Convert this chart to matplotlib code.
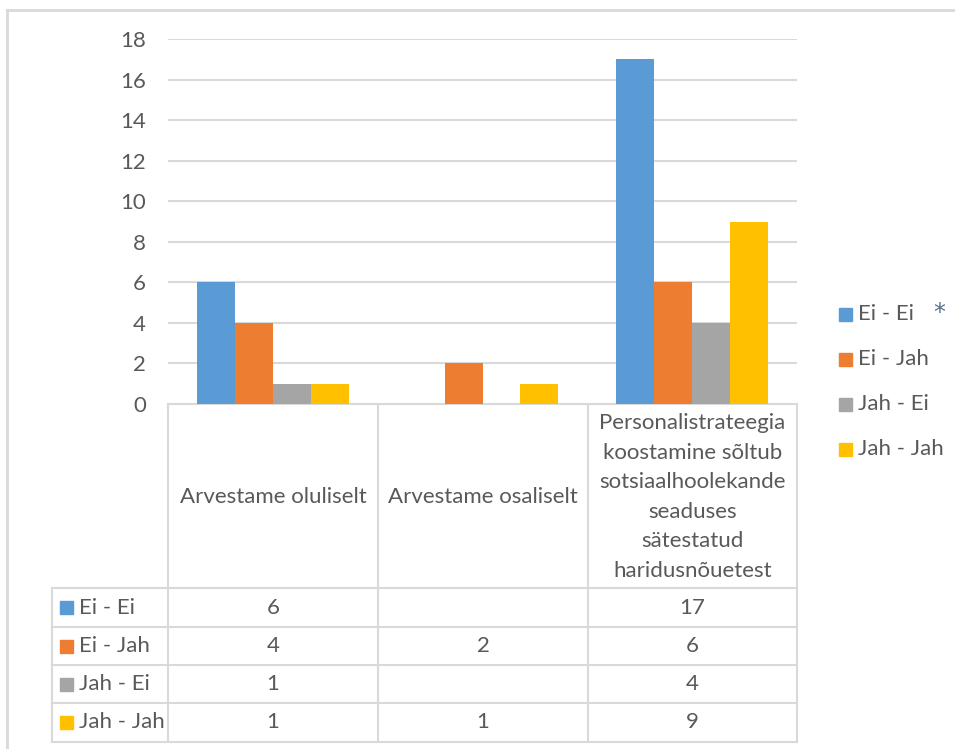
import matplotlib
matplotlib.use("Agg")
import matplotlib.pyplot as plt
import numpy as np

# Data
categories = [
    "Arvestame oluliselt",
    "Arvestame osaliselt",
    "Personalistrateegia\nkoostamine sõltub\nsotsiaalhoolekande\nseaduses\nsätestatud\nharidusnõuetest",
]
series_names = ["Ei - Ei", "Ei - Jah", "Jah - Ei", "Jah - Jah"]
ei_ei = [6, None, 17]
ei_jah = [4, 2, 6]
jah_ei = [1, None, 4]
jah_jah = [1, 1, 9]
y_ticks = [0, 2, 4, 6, 8, 10, 12, 14, 16, 18]

series_values = [ei_ei, ei_jah, jah_ei, jah_jah]
colors = ["#5B9BD5", "#ED7D31", "#A5A5A5", "#FFC000"]
text_color = "#595959"
line_color = "#D9D9D9"
font = "Lato"
fs = 16

W, H = 955, 749
fig = plt.figure(figsize=(W / 100, H / 100), dpi=100)
plt.rcParams["font.family"] = [font, "DejaVu Sans"]

# plot area in pixel coordinates
px_l, px_r, px_t, px_b = 168, 797, 39, 404
ax = fig.add_axes([px_l / W, 1 - px_b / H, (px_r - px_l) / W, (px_b - px_t) / H])
ax.set_xlim(-0.5, len(categories) - 0.5)
ax.set_ylim(0, 18)
ax.set_yticks(y_ticks)
ax.set_yticklabels([str(t) for t in y_ticks])
ax.tick_params(axis="y", length=0, pad=16, labelsize=fs, labelcolor=text_color)
ax.set_xticks([])
for s in ax.spines.values():
    s.set_visible(False)
ax.grid(axis="y", color=line_color, linewidth=1.5)
ax.set_axisbelow(True)

bar_w = 38 / 210
x = np.arange(len(categories))
for i, (vals, c) in enumerate(zip(series_values, colors)):
    h = [v if v is not None else 0 for v in vals]
    ax.bar(x + (i - 1.5) * bar_w, h, width=bar_w, color=c, zorder=3)

# overlay in pixel coordinates for the data table, legend and frame
ov = fig.add_axes([0, 0, 1, 1], zorder=-1)
ov.set_xlim(0, W)
ov.set_ylim(H, 0)
ov.axis("off")
ov.patch.set_alpha(0)
lw = 1.5

# outer chart frame
ov.plot([7, 7], [10, H + 5], color=line_color, lw=2)
ov.plot([7, W + 5], [10, 10], color=line_color, lw=2)

col_edges = [168, 378, 588, 797]
row_edges = [588, 627, 665, 703, 742]
tbl_left = 52

ov.plot([col_edges[0], col_edges[-1]], [px_b, px_b], color=line_color, lw=lw)
for xe in col_edges:
    ov.plot([xe, xe], [px_b, row_edges[-1]], color=line_color, lw=lw)
for ye in row_edges:
    ov.plot([tbl_left, col_edges[-1]], [ye, ye], color=line_color, lw=lw)
ov.plot([tbl_left, tbl_left], [row_edges[0], row_edges[-1]], color=line_color, lw=lw)

# category header cells
for j, cat in enumerate(categories):
    cx = (col_edges[j] + col_edges[j + 1]) / 2
    ov.text(cx, (px_b + row_edges[0]) / 2 + 1, cat, ha="center", va="center",
            fontsize=fs, color=text_color, linespacing=1.6)

# table rows
for i, (name, vals, c) in enumerate(zip(series_names, series_values, colors)):
    cy = (row_edges[i] + row_edges[i + 1]) / 2
    ov.add_patch(plt.Rectangle((60, cy - 6.5), 13, 13, color=c))
    ov.text(79, cy, name, ha="left", va="center", fontsize=fs, color=text_color)
    for j, v in enumerate(vals):
        if v is not None:
            cx = (col_edges[j] + col_edges[j + 1]) / 2
            ov.text(cx, cy, str(v), ha="center", va="center", fontsize=fs, color=text_color)

# legend
leg_y = [314, 359, 404, 449]
for name, c, ly in zip(series_names, colors, leg_y):
    ov.add_patch(plt.Rectangle((839, ly - 6.5), 13, 13, color=c))
    ov.text(858, ly, name, ha="left", va="center", fontsize=fs, color=text_color)

ov.text(939, 313, "*", ha="center", va="center", fontsize=17,
        family="DejaVu Sans", color="#56708F")

fig.savefig("out.png", dpi=100)
